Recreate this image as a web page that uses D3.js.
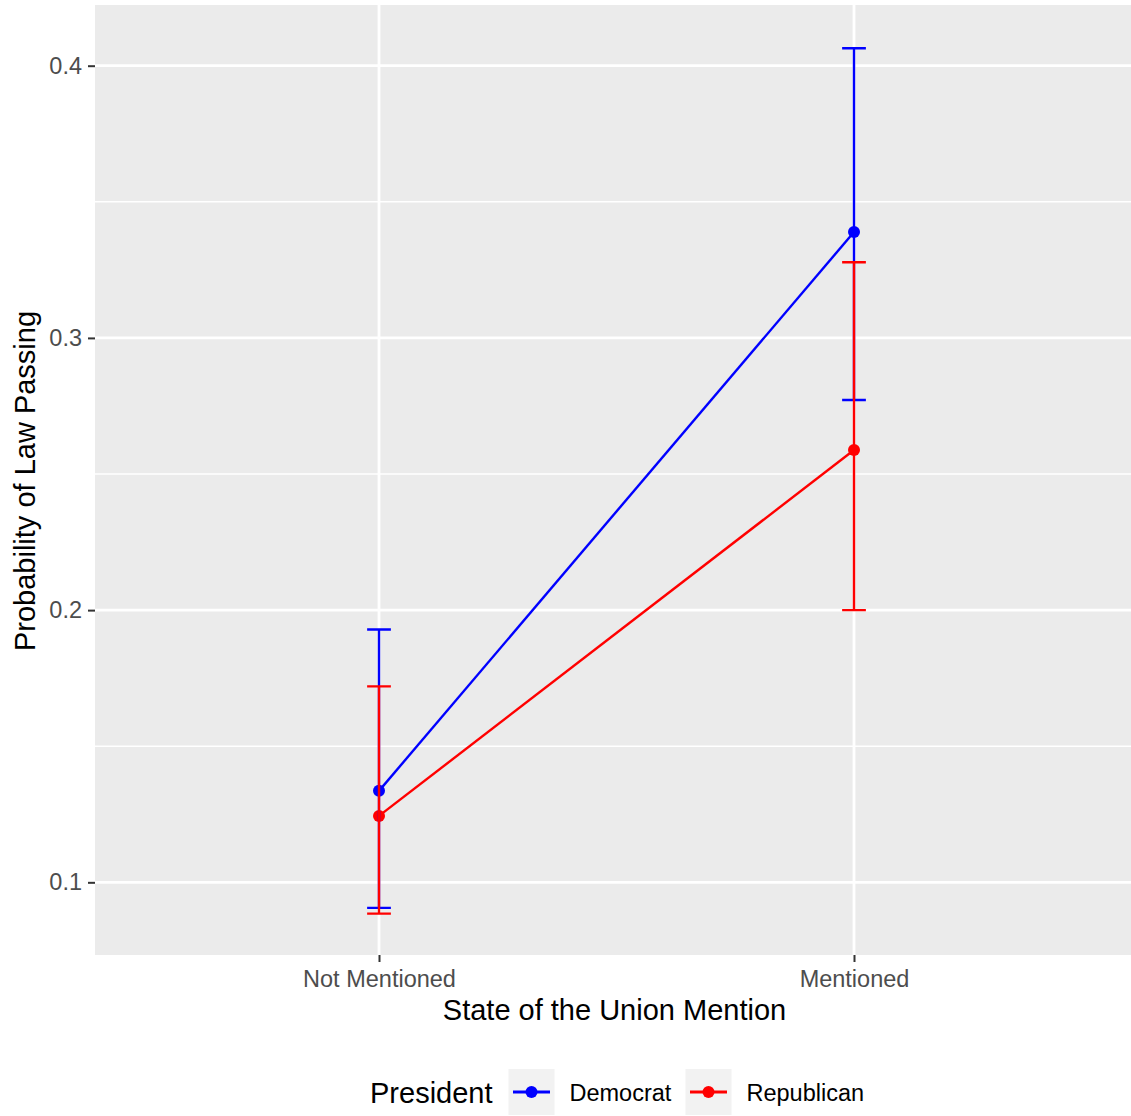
<!DOCTYPE html>
<html>
<head>
<meta charset="utf-8">
<script src="https://cdn.jsdelivr.net/npm/d3@7"></script>
<style>
  html, body { margin: 0; padding: 0; background: #fff; }
  svg { display: block; font-family: "Liberation Sans", Arial, sans-serif; }
</style>
</head>
<body>
<div id="chart"></div>
<script>
const categories = ['Not Mentioned', 'Mentioned'];
const seriesNames = ['Democrat', 'Republican'];
const seriesColors = ['#0000ff', '#ff0000'];

// estimate, lower, upper for each category
const demFit   = [0.1336, 0.3389];
const demLower = [0.0906, 0.2772];
const demUpper = [0.1929, 0.4064];
const repFit   = [0.1244, 0.2588];
const repLower = [0.0885, 0.2000];
const repUpper = [0.1720, 0.3278];

const yTicks = [0.1, 0.2, 0.3, 0.4];
const yMinor = [0.15, 0.25, 0.35];

const W = 1131, H = 1116;
const panel = { left: 95, right: 1131, top: 5, bottom: 955 };

const series = [
  { name: seriesNames[0], color: seriesColors[0], fit: demFit, lo: demLower, hi: demUpper },
  { name: seriesNames[1], color: seriesColors[1], fit: repFit, lo: repLower, hi: repUpper }
];

const svg = d3.select('#chart').append('svg')
  .attr('width', W)
  .attr('height', H);

svg.append('rect').attr('width', W).attr('height', H).attr('fill', '#ffffff');

// discrete x: position 1..n
const x = d3.scaleLinear().domain([1, 2]).range([379, 854]);
const y = d3.scaleLinear().domain([0.0733, 0.4223]).range([panel.bottom, panel.top]);
const xPos = i => x(i + 1);

svg.append('rect')
  .attr('x', panel.left)
  .attr('y', panel.top)
  .attr('width', panel.right - panel.left)
  .attr('height', panel.bottom - panel.top)
  .attr('fill', '#ebebeb');

const grid = svg.append('g');
grid.selectAll('.minor').data(yMinor).enter().append('line')
  .attr('x1', panel.left).attr('x2', panel.right)
  .attr('y1', d => y(d)).attr('y2', d => y(d))
  .attr('stroke', '#ffffff').attr('stroke-width', 1.4);
grid.selectAll('.major').data(yTicks).enter().append('line')
  .attr('x1', panel.left).attr('x2', panel.right)
  .attr('y1', d => y(d)).attr('y2', d => y(d))
  .attr('stroke', '#ffffff').attr('stroke-width', 2.8);
grid.selectAll('.vmajor').data(categories).enter().append('line')
  .attr('x1', (d, i) => xPos(i)).attr('x2', (d, i) => xPos(i))
  .attr('y1', panel.top).attr('y2', panel.bottom)
  .attr('stroke', '#ffffff').attr('stroke-width', 2.8);

// y axis
const yAxis = svg.append('g')
  .attr('transform', `translate(${panel.left},0)`)
  .call(d3.axisLeft(y).tickValues(yTicks).tickFormat(d3.format('.1f')).tickSize(7).tickPadding(6));
yAxis.select('.domain').remove();
yAxis.selectAll('.tick line').attr('stroke', '#333333').attr('stroke-width', 2);
yAxis.selectAll('.tick text')
  .attr('fill', '#4d4d4d')
  .attr('font-size', '23.5px')
  .attr('font-family', '"Liberation Sans", Arial, sans-serif');

// x axis
const xAxis = svg.append('g')
  .attr('transform', `translate(0,${panel.bottom})`)
  .call(d3.axisBottom(x).tickValues([1, 2]).tickFormat(d => categories[d - 1]).tickSize(7).tickPadding(8));
xAxis.select('.domain').remove();
xAxis.selectAll('.tick line').attr('stroke', '#333333').attr('stroke-width', 2);
xAxis.selectAll('.tick text')
  .attr('fill', '#4d4d4d')
  .attr('font-size', '23.5px')
  .attr('font-family', '"Liberation Sans", Arial, sans-serif');

// axis titles
svg.append('text')
  .attr('x', 614.5)
  .attr('y', 1020)
  .attr('text-anchor', 'middle')
  .attr('font-size', '29px')
  .attr('fill', '#000')
  .text('State of the Union Mention');

svg.append('text')
  .attr('transform', `translate(35,${(panel.top + panel.bottom) / 2 + 1}) rotate(-90)`)
  .attr('text-anchor', 'middle')
  .attr('font-size', '29px')
  .attr('fill', '#000')
  .text('Probability of Law Passing');

const line = d3.line().x((d, i) => xPos(i)).y(d => y(d));

// lines
series.forEach(s => {
  svg.append('path')
    .attr('d', line(s.fit))
    .attr('fill', 'none')
    .attr('stroke', s.color)
    .attr('stroke-width', 2.4);
});

// points
series.forEach(s => {
  svg.selectAll(null).data(s.fit).enter().append('circle')
    .attr('cx', (d, i) => xPos(i))
    .attr('cy', d => y(d))
    .attr('r', 6)
    .attr('fill', s.color);
});

// error bars, width 0.05 in x units
const capHalf = 0.025;
series.forEach(s => {
  s.fit.forEach((v, i) => {
    const cx = i + 1;
    const p = d3.path();
    p.moveTo(x(cx - capHalf), y(s.hi[i]));
    p.lineTo(x(cx + capHalf), y(s.hi[i]));
    p.moveTo(x(cx), y(s.hi[i]));
    p.lineTo(x(cx), y(s.lo[i]));
    p.moveTo(x(cx - capHalf), y(s.lo[i]));
    p.lineTo(x(cx + capHalf), y(s.lo[i]));
    svg.append('path')
      .attr('d', p.toString())
      .attr('fill', 'none')
      .attr('stroke', s.color)
      .attr('stroke-width', 2.4);
  });
});

// legend
const legend = svg.append('g');
legend.append('text')
  .attr('x', 370)
  .attr('y', 1103)
  .attr('font-size', '29px')
  .attr('fill', '#000')
  .text('President');

const keyX = [508.5, 685.5];
const keySize = 46;
const keyTop = 1069;
series.forEach((s, i) => {
  const g = legend.append('g').attr('transform', `translate(${keyX[i]},${keyTop})`);
  g.append('rect').attr('width', keySize).attr('height', keySize).attr('fill', '#f2f2f2');
  g.append('line')
    .attr('x1', 4.5).attr('x2', keySize - 4.5)
    .attr('y1', 23).attr('y2', 23)
    .attr('stroke', s.color).attr('stroke-width', 3);
  g.append('circle').attr('cx', keySize / 2).attr('cy', 23).attr('r', 6).attr('fill', s.color);
  g.append('text')
    .attr('x', keySize + 15)
    .attr('y', 32)
    .attr('font-size', '23.5px')
    .attr('fill', '#000')
    .text(s.name);
});
</script>
</body>
</html>
